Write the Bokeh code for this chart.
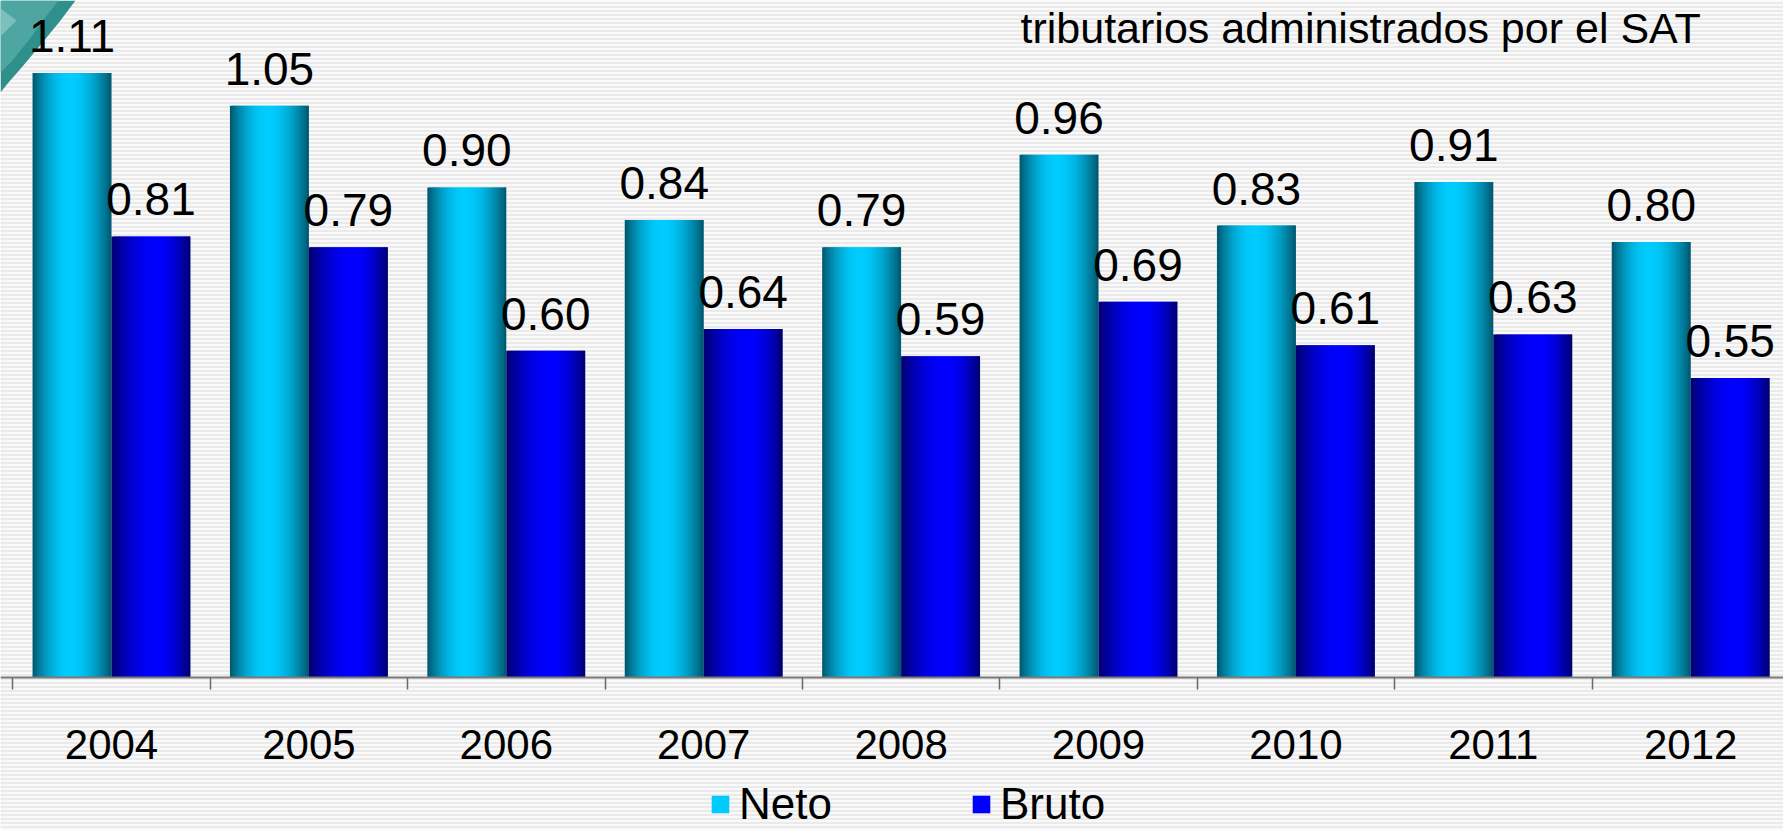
import math
from bokeh.plotting import figure
from bokeh.models import (Range1d, LinearAxis, FixedTicker, LabelSet, Label, Legend,
                          LegendItem, ColumnDataSource)
from bokeh.core.properties import value
from bokeh.embed import file_html
from bokeh.resources import INLINE

# ---------------- data ----------------
years = ["2004", "2005", "2006", "2007", "2008", "2009", "2010", "2011", "2012"]
neto = [1.11, 1.05, 0.90, 0.84, 0.79, 0.96, 0.83, 0.91, 0.80]
bruto = [0.81, 0.79, 0.60, 0.64, 0.59, 0.69, 0.61, 0.63, 0.55]
series_names = ["Neto", "Bruto"]
title_line = "tributarios administrados por el SAT"

# ---------------- geometry ----------------
W, H = 1783, 830
CAT_PX = 197.4          # pixels per category
S_PX = 544.5            # pixels per unit of value
X0_PX = 12.3            # first category boundary from figure left
Y0_PX = 677             # value 0 from figure top
x_start = -X0_PX / CAT_PX
x_end = x_start + W / CAT_PX
y_end = Y0_PX / S_PX
y_start = -(H - Y0_PX) / S_PX

FONT = "Liberation Sans"

p = figure(width=W, height=H, output_backend="svg", toolbar_location=None,
           x_range=Range1d(x_start, x_end), y_range=Range1d(y_start, y_end),
           x_axis_type=None, y_axis_type=None, min_border=0,
           background_fill_color="#f9f9f9", border_fill_color="#f9f9f9")
p.outline_line_color = None
p.grid.visible = False

# striped background
p.quad(left=[x_start], right=[x_end], bottom=[y_start], top=[y_end],
       fill_color="#f9f9f9", line_color=None,
       hatch_pattern="horizontal_line", hatch_scale=4, hatch_weight=1.6,
       hatch_color="#e6e6e6")

# corner decoration (slide design), page px -> data
def dx(px):
    return x_start + px / CAT_PX
def dy(py):
    return (Y0_PX - py) / S_PX

outer = [(0, 0), (75, 0), (60, 20), (42, 42), (22, 66), (8, 82), (0, 92)]
band = [(0, 0), (58, 0), (44, 18), (28, 40), (12, 60), (0, 72)]
inner = [(0, 8), (16, 20), (0, 36)]
for poly, col in [(outer, "#2f8f8a"), (band, "#4da6a1"), (inner, "#7cc0bc")]:
    p.patch([dx(a) for a, b in poly], [dy(b) for a, b in poly],
            fill_color=col, line_color=None)

# gradient bars built from vertical slices
BAR_W = 0.4
N = 36
def gradient(dark, bright, peak):
    cols = []
    for k in range(N):
        t = (k + 0.5) / N
        d = (t - peak) / peak if t < peak else (t - peak) / (1 - peak)
        f = math.cos(math.pi / 2 * min(abs(d), 1.0)) ** 0.9
        c = tuple(int(round(dark[j] + (bright[j] - dark[j]) * f)) for j in range(3))
        cols.append("#%02x%02x%02x" % c)
    return cols

grad_neto = gradient((0, 84, 106), (0, 204, 255), 0.47)
grad_bruto = gradient((0, 0, 108), (0, 0, 255), 0.57)

def slices(vals, offset, cols):
    xs, tops, cs, ws = [], [], [], []
    for i, v in enumerate(vals):
        left = i + offset - BAR_W / 2
        for k in range(N):
            xs.append(left + (k + 0.5) * BAR_W / N)
            tops.append(v)
            cs.append(cols[k])
            # overlap slices slightly (last slice exact) to avoid seams
            ws.append(BAR_W / N * (1.0 if k == N - 1 else 1.8))
    xs = [x + (w - BAR_W / N) / 2 for x, w in zip(xs, ws)]
    return ColumnDataSource(dict(x=xs, top=tops, color=cs, w=ws))

r_neto = p.vbar(x="x", top="top", bottom=0, width="w",
                fill_color="color", line_color=None, source=slices(neto, 0.3, grad_neto))
r_bruto = p.vbar(x="x", top="top", bottom=0, width="w",
                 fill_color="color", line_color=None, source=slices(bruto, 0.7, grad_bruto))

# value labels
lab_src = ColumnDataSource(dict(
    x=[i + 0.3 for i in range(len(years))] + [i + 0.7 for i in range(len(years))],
    y=neto + bruto,
    t=["%.2f" % v for v in neto] + ["%.2f" % v for v in bruto]))
p.add_layout(LabelSet(x="x", y="y", text="t", source=lab_src, y_offset=21,
                      text_align="center", text_baseline="alphabetic",
                      text_font=value(FONT), text_font_size="46px", text_color="black"))

# x axis at value 0
centers = [i + 0.5 for i in range(len(years))]
bounds = [float(i) for i in range(len(years) + 1)]
xaxis = LinearAxis(fixed_location=0,
                   ticker=FixedTicker(ticks=centers, minor_ticks=bounds),
                   major_label_overrides={c: y for c, y in zip(centers, years)})
xaxis.axis_line_color = "#7a7a7a"
xaxis.axis_line_width = 2
xaxis.major_tick_in = 0
xaxis.major_tick_out = 0
xaxis.major_tick_line_color = None
xaxis.minor_tick_in = 0
xaxis.minor_tick_out = 12
xaxis.minor_tick_line_color = "#6a6a6a"
xaxis.minor_tick_line_width = 1.5
xaxis.major_label_text_font = FONT
xaxis.major_label_text_font_size = "42px"
xaxis.major_label_text_color = "black"
xaxis.major_label_standoff = 40
p.add_layout(xaxis, "below")

# title fragment
p.add_layout(Label(x=1020, y=H - 27, x_units="screen", y_units="screen",
                   text=title_line, text_font=FONT, text_font_size="43px",
                   text_align="left", text_baseline="alphabetic", text_color="black"))

# legend
legend = Legend(items=[LegendItem(label=series_names[0], renderers=[r_neto], index=N // 2),
                       LegendItem(label=series_names[1], renderers=[r_bruto], index=N // 2)],
                orientation="horizontal", location=(709, 1),
                glyph_width=22, glyph_height=22, label_standoff=8, spacing=138,
                padding=0, margin=0, border_line_color=None, background_fill_alpha=0,
                label_text_font=FONT, label_text_font_size="44px",
                label_text_color="black")
p.add_layout(legend, "center")

open("out.html", "w").write(file_html(p, INLINE))
